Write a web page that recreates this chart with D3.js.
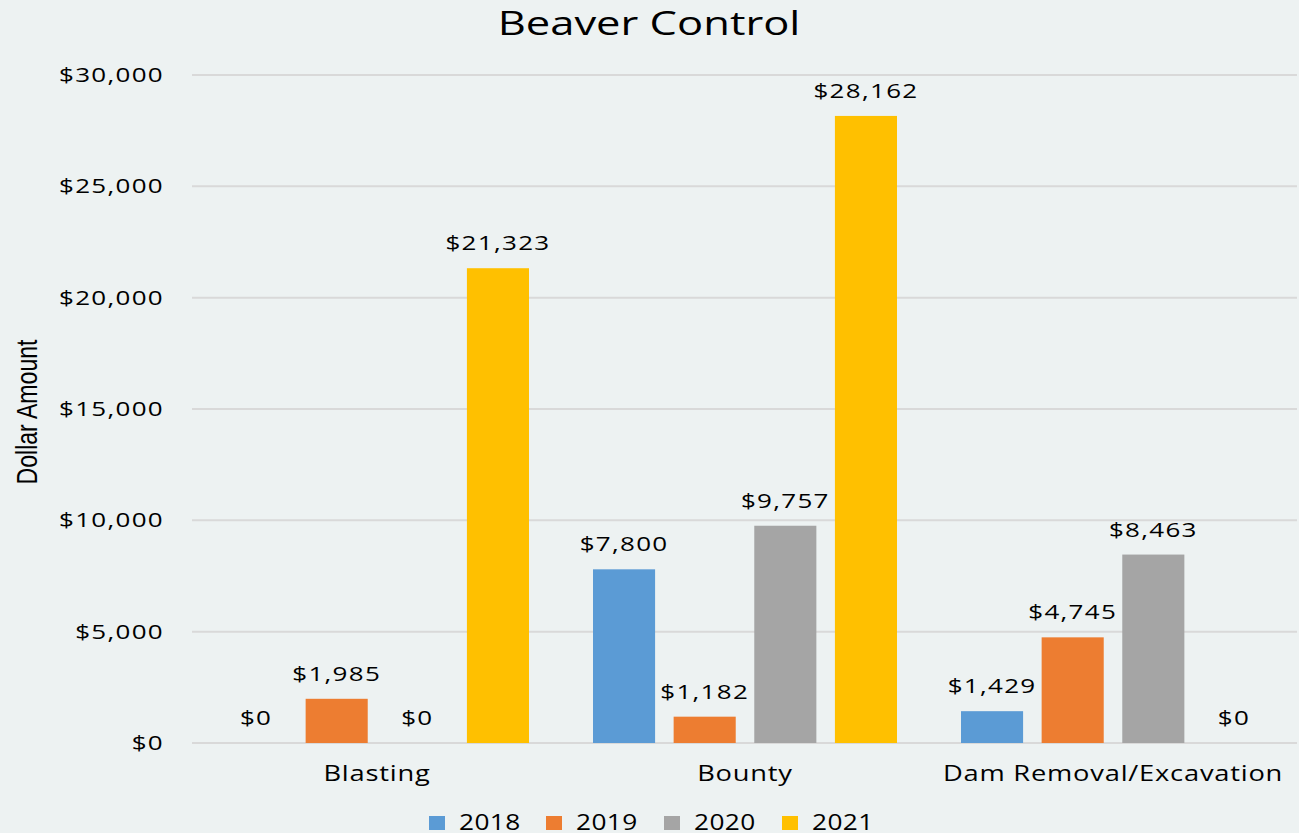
<!DOCTYPE html>
<html>
<head>
<meta charset="utf-8">
<script src="https://cdn.jsdelivr.net/npm/d3@7"></script>
<style>
  html, body { margin: 0; padding: 0; background: #EDF2F2; }
  svg { display: block; font-family: "Open Sans", "DejaVu Sans", sans-serif; }
</style>
</head>
<body>
<svg id="chart" width="1299" height="833"></svg>
<script>
// Beaver control spending by method and year
const categories = ["Blasting", "Bounty", "Dam Removal/Excavation"];
const years = ["2018", "2019", "2020", "2021"];
const values2018 = [0, 7800, 1429];
const values2019 = [1985, 1182, 4745];
const values2020 = [0, 9757, 8463];
const values2021 = [21323, 28162, 0];
const yTicks = [0, 5000, 10000, 15000, 20000, 25000, 30000];
const colors = ["#5B9BD5", "#ED7D31", "#A5A5A5", "#FFC000"];

const seriesValues = [values2018, values2019, values2020, values2021];
const rows = categories.map((c, i) => ({
  category: c,
  values: years.map((y, j) => ({ year: y, value: seriesValues[j][i] }))
}));

const svg = d3.select("#chart");
const W = 1299, H = 833;
const m = { left: 193, right: 2, top: 75, bottom: 90 };
const SX = 1.3; // horizontal stretch applied to the wide lettering

const x0 = d3.scaleBand().domain(categories).range([m.left, W - m.right]).padding(0);
const x1 = d3.scaleBand().domain(years)
  .range([32, x0.bandwidth() - 32]).paddingInner(0.23).paddingOuter(0);
const y = d3.scaleLinear().domain([0, 30000]).range([H - m.bottom, m.top]);

const fmt = v => "$" + d3.format(",")(v);

// gridlines
svg.append("g")
  .selectAll("line")
  .data(yTicks)
  .join("line")
  .attr("x1", m.left - 1)
  .attr("x2", W - 2)
  .attr("y1", d => y(d))
  .attr("y2", d => y(d))
  .attr("stroke", "#D9D9D9")
  .attr("stroke-width", 2);

// y axis labels
const yAxis = d3.axisLeft(y).tickValues(yTicks).tickFormat(fmt).tickSize(0).tickPadding(0);
const yg = svg.append("g").attr("transform", `translate(164,0)`).call(yAxis);
yg.select(".domain").remove();
yg.selectAll("text")
  .attr("x", 0)
  .attr("font-size", 20)
  .attr("letter-spacing", "1px")
  .attr("fill", "#000")
  .attr("dy", "0.33em")
  .attr("transform", `scale(${SX},1)`)
  .style("font-family", "'Open Sans', sans-serif");

// x axis labels
const xAxis = d3.axisBottom(x0).tickSize(0).tickPadding(0);
const xg = svg.append("g").attr("transform", `translate(0,${H - m.bottom})`).call(xAxis);
xg.select(".domain").remove();
xg.selectAll("text")
  .attr("font-size", 21)
  .attr("letter-spacing", "0.6px")
  .attr("fill", "#000")
  .attr("dy", "0")
  .attr("y", 38)
  .attr("transform", `scale(${SX},1)`)
  .style("font-family", "'Open Sans', sans-serif");

// bars and value labels
const groups = svg.append("g")
  .selectAll("g")
  .data(rows)
  .join("g")
  .attr("transform", d => `translate(${x0(d.category)},0)`);

groups.selectAll("rect")
  .data(d => d.values)
  .join("rect")
  .attr("x", d => x1(d.year))
  .attr("width", x1.bandwidth())
  .attr("y", d => y(d.value))
  .attr("height", d => y(0) - y(d.value))
  .attr("fill", (d, i) => colors[i]);

groups.selectAll("text")
  .data(d => d.values)
  .join("text")
  .attr("transform", d =>
    `translate(${x1(d.year) + x1.bandwidth() / 2},${y(d.value) - 18}) scale(${SX},1)`)
  .attr("text-anchor", "middle")
  .attr("font-size", 20)
  .attr("letter-spacing", "1px")
  .attr("fill", "#000")
  .text(d => fmt(d.value));

// title
svg.append("text")
  .attr("transform", `translate(649,35) scale(1.36,1)`)
  .attr("text-anchor", "middle")
  .attr("font-size", 32)
  .attr("fill", "#000")
  .text("Beaver Control");

// y axis title
svg.append("text")
  .attr("transform", "translate(37,412) rotate(-90) scale(0.77,1)")
  .attr("text-anchor", "middle")
  .attr("font-size", 30)
  .attr("fill", "#000")
  .style("font-family", "'Liberation Sans', 'Roboto', sans-serif")
  .text("Dollar Amount");

// legend
const legendX = [429, 546, 664, 782];
const legend = svg.append("g")
  .selectAll("g")
  .data(years)
  .join("g")
  .attr("transform", (d, i) => `translate(${legendX[i]},816)`);
legend.append("rect")
  .attr("width", 16).attr("height", 14)
  .attr("fill", (d, i) => colors[i]);
legend.append("text")
  .attr("transform", `translate(30,14) scale(1.25,1)`)
  .attr("font-size", 21)
  .attr("letter-spacing", "0.3px")
  .attr("fill", "#000")
  .text(d => d);
</script>
</body>
</html>
